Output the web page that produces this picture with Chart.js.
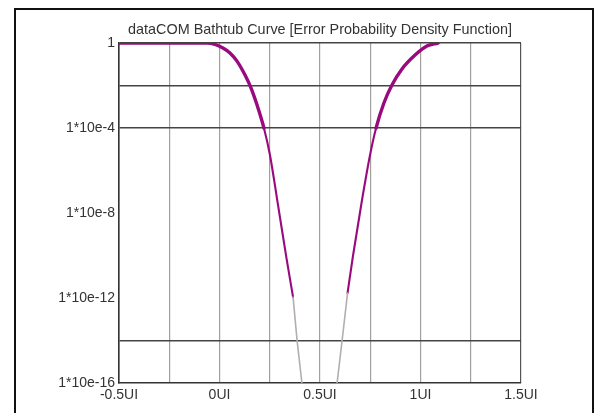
<!DOCTYPE html>
<html>
<head>
<meta charset="utf-8">
<script src="https://cdn.jsdelivr.net/npm/chart.js@4.4.1/dist/chart.umd.min.js"></script>
<style>
    body { margin: 0; background: #fff; }
    #wrap { position: relative; width: 595px; height: 413px; overflow: hidden; }
    #frame { position: absolute; left: 14px; top: 8px; width: 576px; height: 420px; border: 2px solid #111; pointer-events: none; }
</style>
</head>
<body>
<div id="wrap">
    <canvas id="chart-bathtub" width="595" height="413"></canvas>
    <div id="frame"></div>
</div>
<script>
// Unit interval positions (UI) and error probability, measured part of each edge
var leftU = [-0.5, -0.062, -0.022, 0.017, 0.052, 0.087, 0.127, 0.157, 0.187, 0.221, 0.251, 0.291, 0.333, 0.366];
var leftP = [1, 1, 0.85, 0.58, 0.34, 0.14, 3.1e-2, 7.6e-3, 1.2e-3, 1e-4, 5.4e-6, 2.4e-8, 7.8e-11, 1.1e-12];
var rightU = [0.637, 0.664, 0.709, 0.749, 0.779, 0.818, 0.858, 0.908, 0.973, 1.032, 1.087];
var rightP = [1.7e-12, 9.5e-11, 4.1e-8, 5.4e-6, 1e-4, 1.5e-3, 1.05e-2, 6e-2, 0.27, 0.72, 1];

// Extrapolated tails down to 1e-16
var leftTailU = [0.366, 0.386, 0.41];
var leftTailP = [1.1e-12, 1e-14, 1e-16];
var rightTailU = [0.585, 0.61, 0.637];
var rightTailP = [1e-16, 1e-14, 1.7e-12];

// Axis ticks
var xMin = -0.5, xMax = 1.5, xStep = 0.25;
var yDecades = [1, 1e-1, 1e-2, 1e-3, 1e-4, 1e-5, 1e-6, 1e-7, 1e-8, 1e-9, 1e-10, 1e-11, 1e-12, 1e-13, 1e-14, 1e-15, 1e-16];
var yTickValues = [1, 1e-4, 1e-8, 1e-12, 1e-16];
var yTickLabels = ['1', '1*10e-4', '1*10e-8', '1*10e-12', '1*10e-16'];
var yGridValues = [1, 1e-2, 1e-4, 1e-14];

function toPoints(us, ps) {
    return us.map(function(u, i) { return { x: u, y: ps[i] }; });
}

var magenta = '#990a7e';
var tailGray = '#b3aeab';
var textColor = '#333';

// thicker stroke near the top of each edge
function curveWidth(ctx) {
    var top = Math.max(ctx.p0.parsed.y, ctx.p1.parsed.y);
    return top > 2e-4 ? 3.4 : 2.1;
}

new Chart(document.getElementById('chart-bathtub'), {
    type: 'line',
    data: {
        datasets: [
            { data: toPoints(leftTailU, leftTailP), borderColor: tailGray, borderWidth: 1.6, tension: 0 },
            { data: toPoints(rightTailU, rightTailP), borderColor: tailGray, borderWidth: 1.6, tension: 0 },
            { data: toPoints(leftU, leftP), borderColor: magenta, cubicInterpolationMode: 'monotone', segment: { borderWidth: curveWidth } },
            { data: toPoints(rightU, rightP), borderColor: magenta, cubicInterpolationMode: 'monotone', segment: { borderWidth: curveWidth } }
        ]
    },
    options: {
        responsive: false,
        animation: false,
        layout: { padding: { left: 0, right: 74, top: 0, bottom: 0 } },
        elements: { point: { radius: 0 }, line: { borderWidth: 2.1, borderCapStyle: 'round' } },
        plugins: {
            legend: { display: false },
            tooltip: { enabled: false },
            title: {
                display: true,
                fullSize: false,
                text: 'dataCOM Bathtub Curve [Error Probability Density Function]',
                color: textColor,
                font: { family: '"Liberation Sans", Arial, sans-serif', size: 14.4, weight: 'normal', lineHeight: 1 },
                padding: { top: 23, bottom: 5.6 }
            }
        },
        scales: {
            x: {
                type: 'linear',
                min: xMin,
                max: xMax,
                afterFit: function(s) { s.height = 30; },
                ticks: {
                    stepSize: xStep,
                    autoSkip: false,
                    maxRotation: 0,
                    padding: 4,
                    color: textColor,
                    font: { family: '"Liberation Sans", Arial, sans-serif', size: 14 },
                    callback: function(v) { return v % 0.5 === 0 ? v + 'UI' : ''; }
                },
                grid: {
                    drawTicks: false,
                    lineWidth: 1.2,
                    color: function(ctx) { return ctx.tick && ctx.tick.value === xMax ? '#555' : '#a39f9d'; }
                },
                border: { color: '#333', width: 1.6 }
            },
            y: {
                type: 'logarithmic',
                min: 1e-16,
                max: 1,
                afterFit: function(s) { s.width = 119; },
                afterBuildTicks: function(s) {
                    s.ticks = yDecades.map(function(v) { return { value: v }; });
                },
                ticks: {
                    autoSkip: false,
                    padding: 4,
                    color: textColor,
                    font: { family: '"Liberation Sans", Arial, sans-serif', size: 14 },
                    callback: function(v) {
                        var i = yTickValues.indexOf(v);
                        return i >= 0 ? yTickLabels[i] : '';
                    }
                },
                grid: {
                    drawTicks: false,
                    lineWidth: 1.4,
                    color: function(ctx) {
                        return ctx.tick && yGridValues.indexOf(ctx.tick.value) >= 0 ? '#444' : 'rgba(0,0,0,0)';
                    }
                },
                border: { color: '#333', width: 1.6 }
            }
        }
    }
});
</script>
</body>
</html>
